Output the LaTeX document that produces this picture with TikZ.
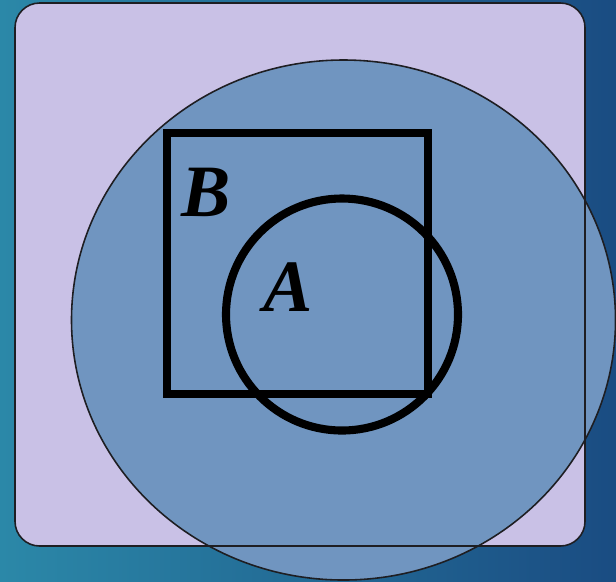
\documentclass[tikz,border=0pt]{standalone}
\usepackage{fontspec}
\setmainfont{Liberation Serif}
\definecolor{bgteal}{HTML}{2B88A8}
\definecolor{bgblue}{HTML}{1A4C82}
\definecolor{lavender}{HTML}{C9C1E6}
\definecolor{skyfill}{HTML}{7095C0}
\definecolor{ink}{HTML}{1E1E22}
\tikzset{
  thinline/.style={draw=ink,line width=0.45pt},
  setline/.style={draw=black,line width=2.5pt},
  setlabel/.style={font=\fontsize{21}{21}\selectfont\bfseries\itshape,inner sep=0pt},
}
\begin{document}
\begin{tikzpicture}[x=0.01cm,y=-0.01cm]
  % background
  \shade[left color=bgteal,right color=bgblue] (0,0) rectangle (616,581);
  \useasboundingbox (0,0) rectangle (616,581);
  % universe
  \fill[lavender,rounded corners=7pt] (15,3) rectangle (585,546);
  \path[thinline,fill=skyfill] (343.5,320) ellipse [x radius=272,y radius=260];
  \draw[thinline,rounded corners=7pt] (15,3) rectangle (585,546);
  % sets
  \draw[setline] (167,133) rectangle (428,394);
  \draw[setline,line width=2.3pt] (342,314.5) circle [radius=116];
  \node[setlabel] (labB) at (206,192) {B};
  \node[setlabel] (labA) at (288,287) {A};
\end{tikzpicture}
\end{document}
